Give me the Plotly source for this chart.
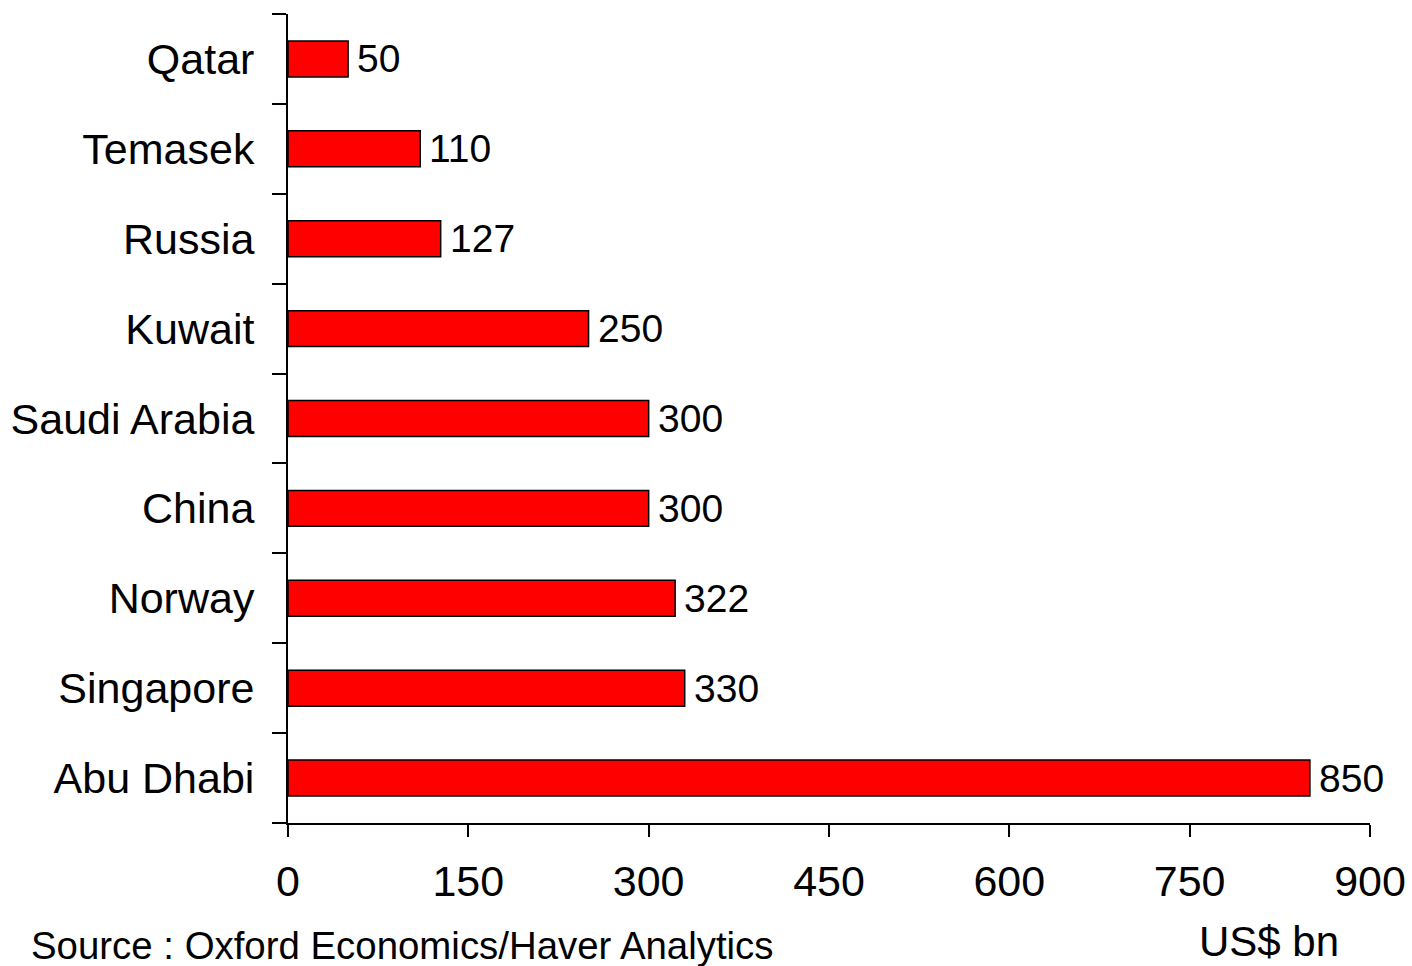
import plotly.graph_objects as go

countries = ["Abu Dhabi", "Singapore", "Norway", "China", "Saudi Arabia",
             "Kuwait", "Russia", "Temasek", "Qatar"]
assets = [850, 330, 322, 300, 300, 250, 127, 110, 50]
x_ticks = [0, 150, 300, 450, 600, 750, 900]

FONT = "Liberation Sans, Arial, sans-serif"

fig = go.Figure()
fig.add_trace(go.Bar(
    x=assets, y=countries, orientation="h", width=0.4,
    marker=dict(color="#FF0000", line=dict(color="black", width=1.5)),
    showlegend=False, hoverinfo="skip",
))

for c, v in zip(countries, assets):
    fig.add_annotation(x=v, y=c, text=str(v), showarrow=False,
                       xanchor="left", yanchor="middle", xshift=7,
                       font=dict(family=FONT, size=39, color="black"))

# plot area: x 288..1370, y 14..823 (1082 x 809 px)
fig.add_annotation(xref="paper", yref="paper", x=(29 - 288) / 1082,
                   y=(823 - 946) / 809,
                   text="Source : Oxford Economics/Haver Analytics",
                   showarrow=False, xanchor="left", yanchor="middle",
                   font=dict(family=FONT, size=38.4, color="black"))
fig.add_annotation(xref="paper", yref="paper", x=(1340 - 288) / 1082,
                   y=(823 - 966) / 809,
                   text="US$ bn", showarrow=False, xanchor="right",
                   yanchor="bottom", borderpad=0,
                   font=dict(family=FONT, size=42, color="black"))

fig.update_layout(
    width=1412, height=966,
    margin=dict(l=288, r=42, t=14, b=143, autoexpand=False),
    paper_bgcolor="white", plot_bgcolor="white",
    font=dict(family=FONT, color="black"),
    xaxis=dict(range=[0, 900], tickvals=x_ticks, ticks="outside",
               ticklen=12, tickwidth=2, tickcolor="black",
               showline=True, linecolor="black", linewidth=2,
               showgrid=False, zeroline=False, automargin=False,
               tickfont=dict(size=43, family=FONT),
               ticklabelstandoff=7),
    yaxis=dict(range=[-0.5, 8.5], ticks="outside", tickson="boundaries",
               ticklen=14, tickwidth=2, tickcolor="black",
               showline=True, linecolor="black", linewidth=2,
               showgrid=False, zeroline=False, automargin=False,
               tickfont=dict(size=43, family=FONT),
               ticklabelstandoff=23),
    bargap=0.6,
)

fig.write_html("out.html")
